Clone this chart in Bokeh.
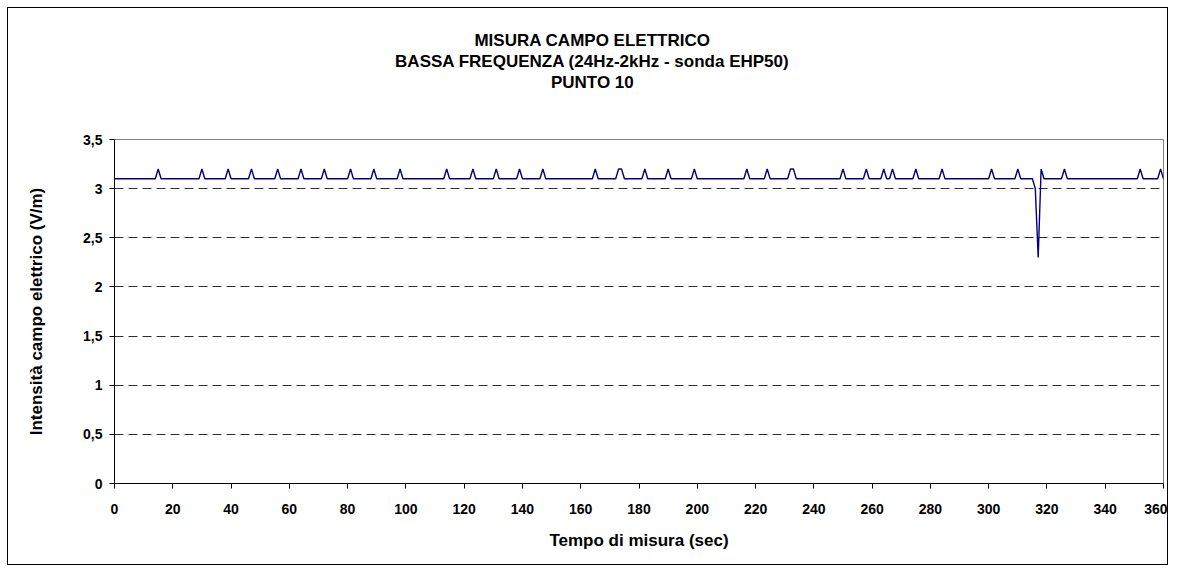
from bokeh.plotting import figure
from bokeh.models import FixedTicker, Title, ColumnDataSource
from bokeh.embed import file_html
from bokeh.resources import INLINE

# ---- data ----
time_s = [0,
          14, 15, 16, 29, 30, 31, 38, 39, 40, 46, 47, 48, 55, 56, 57,
          63, 64, 65, 71, 72, 73, 80, 81, 82, 88, 89, 90, 97, 98, 99,
          113, 114, 115, 122, 123, 124, 130, 131, 132, 138, 139, 140, 146, 147, 148,
          164, 165, 166, 172, 173, 174, 175, 181, 182, 183, 189, 190, 191, 198, 199, 200,
          216, 217, 218, 223, 224, 225, 231, 232, 233, 234,
          249, 250, 251, 257, 258, 259, 263, 264, 265, 266, 267, 268,
          274, 275, 276, 283, 284, 285, 300, 301, 302, 309, 310, 311,
          315, 316, 317, 318, 319, 325, 326, 327, 351, 352, 353, 358, 359, 360]
field_v = [3.1,
           3.1, 3.2, 3.1, 3.1, 3.2, 3.1, 3.1, 3.2, 3.1, 3.1, 3.2, 3.1, 3.1, 3.2, 3.1,
           3.1, 3.2, 3.1, 3.1, 3.2, 3.1, 3.1, 3.2, 3.1, 3.1, 3.2, 3.1, 3.1, 3.2, 3.1,
           3.1, 3.2, 3.1, 3.1, 3.2, 3.1, 3.1, 3.2, 3.1, 3.1, 3.2, 3.1, 3.1, 3.2, 3.1,
           3.1, 3.2, 3.1, 3.1, 3.2, 3.2, 3.1, 3.1, 3.2, 3.1, 3.1, 3.2, 3.1, 3.1, 3.2, 3.1,
           3.1, 3.2, 3.1, 3.1, 3.2, 3.1, 3.1, 3.2, 3.2, 3.1,
           3.1, 3.2, 3.1, 3.1, 3.2, 3.1, 3.1, 3.2, 3.1, 3.1, 3.2, 3.1,
           3.1, 3.2, 3.1, 3.1, 3.2, 3.1, 3.1, 3.2, 3.1, 3.1, 3.2, 3.1,
           3.1, 3.0, 2.3, 3.2, 3.1, 3.1, 3.2, 3.1, 3.1, 3.2, 3.1, 3.1, 3.2, 3.1]

x_ticks = [0, 20, 40, 60, 80, 100, 120, 140, 160, 180, 200, 220, 240, 260, 280, 300, 320, 340, 360]
y_ticks = [0, 0.5, 1, 1.5, 2, 2.5, 3, 3.5]
y_tick_labels = ["0", "0,5", "1", "1,5", "2", "2,5", "3", "3,5"]

title_lines = ["MISURA CAMPO ELETTRICO",
               "BASSA FREQUENZA (24Hz-2kHz - sonda EHP50)",
               "PUNTO 10"]
x_title = "Tempo di misura (sec)"
y_title = "Intensità campo elettrico (V/m)"

FONT = "Liberation Sans"

p = figure(width=1161, height=558, output_backend="svg", toolbar_location=None,
           x_range=(0, 360), y_range=(0, 3.5),
           min_border_left=106, min_border_right=6, min_border_top=131, min_border_bottom=83)
p.styles = {"border": "1px solid black", "margin-left": "7px", "margin-top": "7px"}
p.background_fill_color = "white"
p.border_fill_color = "white"
p.outline_line_color = "#808080"
p.outline_line_width = 1

src = ColumnDataSource(data=dict(t=time_s, v=field_v))
p.line("t", "v", source=src, line_color="#000080", line_width=1.4)

# axes
p.xaxis.ticker = FixedTicker(ticks=x_ticks)
p.yaxis.ticker = FixedTicker(ticks=y_ticks)
p.yaxis.major_label_overrides = {t: l for t, l in zip(y_ticks, y_tick_labels)}
for ax in (p.xaxis, p.yaxis):
    ax.axis_line_color = "black"
    ax.axis_line_width = 1
    ax.major_tick_line_color = "black"
    ax.major_tick_out = 5
    ax.major_tick_in = 0
    ax.minor_tick_line_color = None
    ax.major_label_text_font = FONT
    ax.major_label_text_font_style = "bold"
    ax.major_label_text_font_size = "14px"
    ax.major_label_text_color = "black"
    ax.axis_label_text_font = FONT
    ax.axis_label_text_font_style = "bold"
    ax.axis_label_text_font_size = "17px"
    ax.axis_label_text_color = "black"
p.xaxis.axis_label = x_title
p.yaxis.axis_label = y_title
p.xaxis.major_label_standoff = 15
p.yaxis.major_label_standoff = 7
p.xaxis.axis_label_standoff = 14
p.yaxis.axis_label_standoff = 34

# grid
p.xgrid.grid_line_color = None
p.ygrid.ticker = FixedTicker(ticks=y_ticks)
p.ygrid.grid_line_color = "#303030"
p.ygrid.grid_line_dash = "9 5"
p.ygrid.grid_line_width = 1

# title: three lines, each centred near x=592 px (approx. left offsets from Arial-bold widths)
TITLE_SIZE = 17
em_widths = [13.889, 23.225, 4.89]
centre_from_frame_left = 478

# blank spacer between the title block and the plot area (closest to the plot)
p.add_layout(Title(text=" ", align="left", standoff=26,
                   text_font=FONT, text_font_size=f"{TITLE_SIZE}px"), "above")
for line, em in reversed(list(zip(title_lines, em_widths))):
    p.add_layout(Title(text=line, align="left",
                       offset=centre_from_frame_left - em * TITLE_SIZE / 2,
                       vertical_align="middle", standoff=0,
                       text_font=FONT, text_font_style="bold",
                       text_font_size=f"{TITLE_SIZE}px", text_color="black"), "above")

open("out.html", "w").write(file_html(p, INLINE))
